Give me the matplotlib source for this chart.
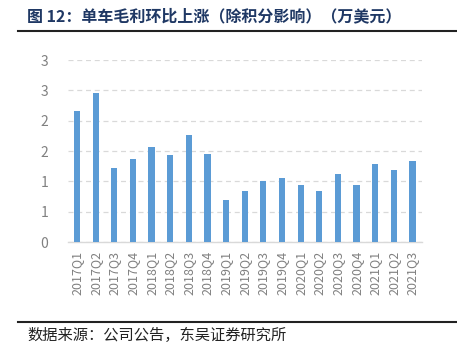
import matplotlib.pyplot as plt
from matplotlib.lines import Line2D
from matplotlib.ticker import FuncFormatter
import math

plt.rcParams['font.family'] = ['Noto Sans CJK SC', 'DejaVu Sans']

quarters = ['2017Q1', '2017Q2', '2017Q3', '2017Q4',
            '2018Q1', '2018Q2', '2018Q3', '2018Q4',
            '2019Q1', '2019Q2', '2019Q3', '2019Q4',
            '2020Q1', '2020Q2', '2020Q3', '2020Q4',
            '2021Q1', '2021Q2', '2021Q3']
gross_profit = [2.16, 2.45, 1.23, 1.37,
                1.56, 1.44, 1.76, 1.45,
                0.69, 0.84, 1.01, 1.06,
                0.95, 0.84, 1.13, 0.95,
                1.28, 1.19, 1.34]
yticks = [0, 0.5, 1.0, 1.5, 2.0, 2.5, 3.0]

fig = plt.figure(figsize=(4.57, 3.51), dpi=100)
ax = fig.add_axes([0.148, 0.31, 0.775, 0.519])

x = list(range(len(quarters)))
ax.bar(x, gross_profit, width=0.33, color='#5B9BD5', zorder=3)

ax.set_xlim(-0.5, len(quarters) - 0.5)
ax.set_ylim(0, 3)
ax.set_yticks(yticks)
# excel style rounding: 0.5 -> 1, 1.5 -> 2 ...
ax.yaxis.set_major_formatter(FuncFormatter(lambda v, p: '%d' % math.floor(v + 0.5)))
ax.set_xticks(x)
ax.set_xticklabels(quarters, rotation=90)
ax.tick_params(axis='both', length=0, colors='#808080', labelsize=9)
ax.tick_params(axis='y', pad=14, labelsize=10)
ax.tick_params(axis='x', pad=6)

ax.grid(axis='y', color='#d9d9d9', linestyle=(0, (4, 3)), linewidth=0.9, zorder=0)
for s in ['top', 'right', 'left']:
    ax.spines[s].set_visible(False)
ax.spines['bottom'].set_color('#d9d9d9')
ax.spines['bottom'].set_linewidth(1.0)

# title and source
fig.text(0.06, 0.955, '图 12：单车毛利环比上涨（除积分影响）（万美元）',
         fontsize=11.5, fontweight='bold', color='#1F3864', va='center')
fig.add_artist(Line2D([0.04, 1.0], [0.912, 0.912], color='#222222', linewidth=1.5))
fig.add_artist(Line2D([0.04, 1.0], [0.083, 0.083], color='#222222', linewidth=1.5))
fig.text(0.06, 0.045, '数据来源：公司公告，东吴证券研究所',
         fontsize=11, color='#222222', va='center')

fig.savefig('out.png', dpi=100)
